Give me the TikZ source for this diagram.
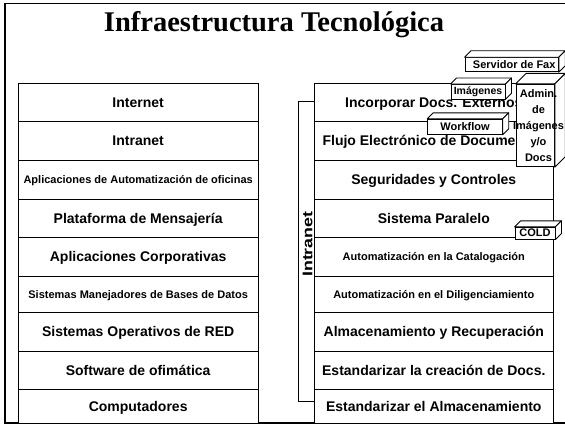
\documentclass[tikz,border=0pt]{standalone}
\usepackage{fontspec}
\setmainfont{Liberation Serif}
\setsansfont{Liberation Sans}
\newcommand{\cubebox}[7]{%
  % #1 name, #2 centre x, #3 centre y, #4 width, #5 height, #6 depth, #7 text
  \node[cubefront, minimum width=#4, minimum height=#5] (#1) at (#2,#3) {#7};
  \draw[cubeface] (#1.north west) -- ++(#6,-#6)
     -- ([shift={(#6,-#6)}]#1.north east) -- (#1.north east) -- cycle;
  \draw[cubeface] (#1.north east) -- ++(#6,-#6)
     -- ([shift={(#6,-#6)}]#1.south east) -- (#1.south east) -- cycle;
}
\begin{document}
\begin{tikzpicture}[x=1pt,y=-1pt,
  rowbox/.style={draw, line width=0.9pt, fill=white, inner sep=0pt},
  cubefront/.style={draw, line width=0.9pt, fill=white, inner sep=0pt,
    font=\sffamily\bfseries\fontsize{11}{13}\selectfont},
  cubeface/.style={draw, line width=0.9pt, fill=white, line join=round},
]
\useasboundingbox (0,0) rectangle (565,426);
\fill[white] (0,0) rectangle (565,426);

% outer frame (right side runs off the page)
\draw[line width=1.8pt] (570,3.5) -- (5,3.5) -- (5,423.3) -- (570,423.3);

% title
\node[anchor=base, font=\bfseries\fontsize{28.5}{32}\selectfont] (title) at (274,31)
  {Infraestructura Tecnológica};

% left stack
\foreach \ya/\yb/\sz/\txt [count=\i] in {
  83.5/121/14/Internet,
  121/160/14/Intranet,
  160/199/11/Aplicaciones de Automatización de oficinas,
  199/237.5/14/Plataforma de Mensajería,
  237.5/276/14/Aplicaciones Corporativas,
  276/312.5/11/Sistemas Manejadores de Bases de Datos,
  312.5/351/14/Sistemas Operativos de RED,
  351/389.3/14/Software de ofimática,
  389.3/423.3/14/Computadores}
{
  \node[rowbox, minimum width=239.7pt, minimum height={(\yb-\ya)*1pt},
        font=\sffamily\bfseries\fontsize{\sz}{\sz}\selectfont,
        text height={0.72*\sz*1pt}, text depth=0pt]
    (l\i) at (138.15,{(\ya+\yb)/2}) {\txt};
}

% intranet bar
\node[rowbox, minimum width=15.6pt, minimum height=300pt] (intranet) at (306.5,251.7) {};
\node[rotate=90, inner sep=0pt, font=\sffamily\bfseries\fontsize{14}{14}\selectfont]
  (intranetlbl) at (307.6,244.2) {\scalebox{1.27}[1]{Intranet}};

% right stack
\foreach \ya/\yb/\sz/\txt [count=\i] in {
  83.5/121/14/Incorporar Docs. Externos,
  121/160/14/Flujo Electrónico de Documentos,
  160/199/14/Seguridades y Controles,
  199/237.5/14/Sistema Paralelo,
  237.5/276/11/Automatización en la Catalogación,
  276/312.5/11/Automatización en el Diligenciamiento,
  312.5/351/14/Almacenamiento y Recuperación,
  351/389.3/14/Estandarizar la creación de Docs.,
  389.3/423.3/14/Estandarizar el Almacenamiento}
{
  \node[rowbox, minimum width=239pt, minimum height={(\yb-\ya)*1pt},
        font=\sffamily\bfseries\fontsize{\sz}{\sz}\selectfont,
        text height={0.72*\sz*1pt}, text depth=0pt]
    (r\i) at (433.8,{(\ya+\yb)/2}) {\txt};
}

% 3D boxes
\cubebox{fax}{511.7}{64.7}{93.3pt}{14pt}{6.5}{\hspace*{5pt}Servidor de Fax}
\cubebox{img}{478}{91.7}{54pt}{14.5pt}{6}{\fontsize{10.5}{12}\selectfont Imágenes}
\cubebox{admin}{535.2}{125.5}{38.3pt}{82.4pt}{10.5}{}
\node[inner sep=0pt, align=center, font=\sffamily\bfseries\fontsize{11}{16}\selectfont]
  (adminlbl) at (538.5,125.5) {Admin.\\de\\Imágenes\\y/o\\Docs};
\cubebox{wf}{465}{126.8}{74.6pt}{15pt}{6}{Workflow}
\cubebox{cold}{535}{233.2}{40pt}{11.7pt}{6}{COLD}
\end{tikzpicture}
\end{document}
